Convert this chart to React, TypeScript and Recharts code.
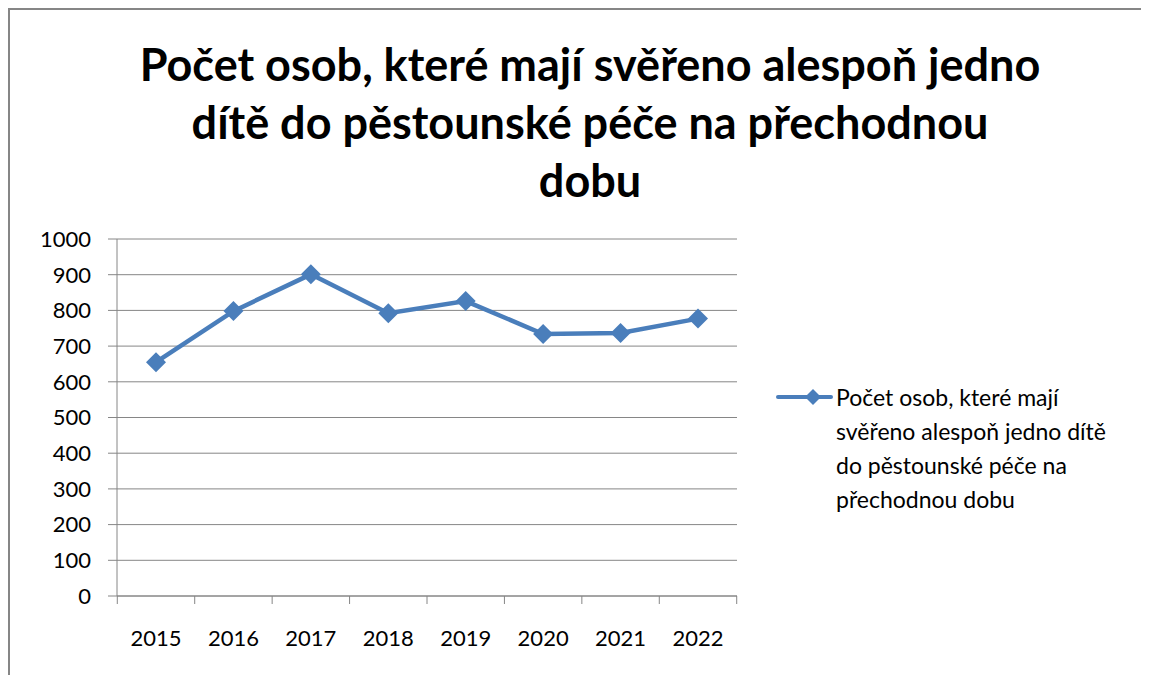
import React from 'react';
import { LineChart, Line, XAxis, YAxis, CartesianGrid, Legend } from 'recharts';

const years = ['2015', '2016', '2017', '2018', '2019', '2020', '2021', '2022'];
const persons = [655, 798, 901, 792, 826, 734, 737, 777];
const yTicks = [0, 100, 200, 300, 400, 500, 600, 700, 800, 900, 1000];

const seriesName = 'Počet osob, které mají svěřeno alespoň jedno dítě do pěstounské péče na přechodnou dobu';
const titleLines = [
  'Počet osob, které mají svěřeno alespoň jedno',
  'dítě do pěstounské péče na přechodnou',
  'dobu',
];

const data = years.map((year, i) => ({ year, value: persons[i] }));

const BLUE = '#4A7EBB';
const GRAY = '#868686';
const FONT = 'Lato, "Open Sans", sans-serif';
const XPAD = 39;

const Diamond = (props: any) => {
  const { cx, cy } = props;
  if (cx == null || cy == null) return null;
  const r = 10;
  return (
    <polygon
      points={`${cx},${cy - r} ${cx + r},${cy} ${cx},${cy + r} ${cx - r},${cy}`}
      fill={BLUE}
    />
  );
};

// year label in the middle of its slot, tick marks on the slot edges (like Excel)
const YearTick = (props: any) => {
  const { x, y, payload, index, visibleTicksCount, width } = props;
  const n = visibleTicksCount || years.length;
  const step = (Number(width) - 2 * XPAD) / (n - 1);
  const half = step / 2;
  return (
    <g>
      <line x1={x - half} y1={y} x2={x - half} y2={y + 8} stroke={GRAY} />
      {index === n - 1 && <line x1={x + half} y1={y} x2={x + half} y2={y + 8} stroke={GRAY} />}
      <text x={x} y={y + 50} textAnchor="middle" fill="#000" fontSize={22} fontFamily={FONT}>
        {payload.value}
      </text>
    </g>
  );
};

const LegendBox = (props: any) => {
  const item = props.payload && props.payload[0];
  return (
    <div style={{ width: 391, paddingLeft: 39, boxSizing: 'border-box', display: 'flex', fontFamily: FONT }}>
      <svg width={60} height={34} style={{ flex: 'none' }}>
        <line x1={2} y1={17} x2={55} y2={17} stroke={BLUE} strokeWidth={4} strokeLinecap="round" />
        <polygon points="37,9 45,17 37,25 29,17" fill={BLUE} />
      </svg>
      <div style={{ width: 292, flex: 'none', fontSize: 23, lineHeight: '34px', color: '#000' }}>
        {item ? item.value : seriesName}
      </div>
    </div>
  );
};

export default function App() {
  return (
    <div
      style={{
        position: 'relative',
        width: 1160,
        height: 680,
        border: `2px solid ${GRAY}`,
        background: '#fff',
        overflow: 'hidden',
      }}
    >
      <style>{'html, body { overflow: hidden; }'}</style>
      <div
        style={{
          position: 'absolute',
          left: 0,
          top: 25,
          width: 1160,
          textAlign: 'center',
          fontFamily: FONT,
          fontWeight: 700,
          fontSize: 45,
          lineHeight: '58px',
          color: '#000',
        }}
      >
        {titleLines.map((t) => (
          <div key={t}>{t}</div>
        ))}
      </div>
      <div style={{ position: 'absolute', left: 0, top: 0 }}>
        <LineChart
          width={1131}
          height={657}
          data={data}
          margin={{ top: 229, right: 13, bottom: 70, left: 47 }}
        >
          <CartesianGrid vertical={false} stroke={GRAY} strokeWidth={1} />
          <XAxis
            dataKey="year"
            height={1}
            padding={{ left: XPAD, right: XPAD }}
            axisLine={{ stroke: GRAY }}
            tickLine={false}
            tickSize={0}
            tickMargin={0}
            interval={0}
            tick={<YearTick />}
          />
          <YAxis
            domain={[0, 1000]}
            ticks={yTicks}
            width={60}
            axisLine={{ stroke: GRAY }}
            tickLine={{ stroke: GRAY }}
            tickSize={9}
            tickMargin={17}
            interval={0}
            tick={{ fill: '#000', fontSize: 22, fontFamily: FONT }}
          />
          <Legend
            layout="vertical"
            align="right"
            verticalAlign="middle"
            wrapperStyle={{ top: 370 }}
            content={<LegendBox />}
          />
          <Line
            type="linear"
            dataKey="value"
            name={seriesName}
            stroke={BLUE}
            strokeWidth={4.5}
            dot={<Diamond />}
            activeDot={false}
            isAnimationActive={false}
          />
        </LineChart>
      </div>
    </div>
  );
}
